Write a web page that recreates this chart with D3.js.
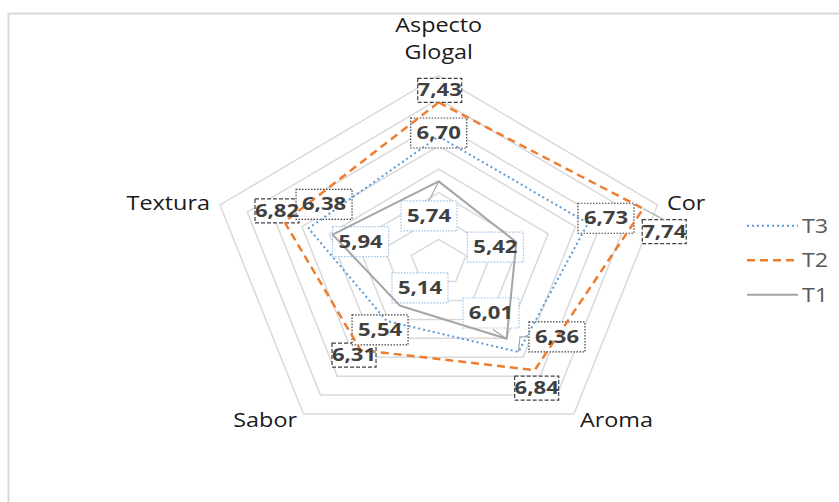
<!DOCTYPE html>
<html>
<head>
<meta charset="utf-8">
<script src="https://cdn.jsdelivr.net/npm/d3@7"></script>
<style>
  html, body { margin: 0; padding: 0; background: #fff; }
  svg { display: block; }
</style>
</head>
<body>
<svg id="chart" width="839" height="502"></svg>
<script>
// ---- data ----
const axes = ["Aspecto\nGlogal", "Cor", "Aroma", "Sabor", "Textura"];
const seriesNames = ["T3", "T2", "T1"];
const t3Values = [6.70, 6.73, 6.36, 5.54, 6.38];
const t2Values = [7.43, 7.74, 6.84, 6.31, 6.82];
const t1Values = [5.74, 5.42, 6.01, 5.14, 5.94];
const axisMin = 4, axisMax = 8, axisStep = 0.5;

// ---- layout / style ----
const W = 839, H = 502;
const cx = 438.7, cy = 262.7;
const RX = 230, RY = 187;
const TX = 1.2;   // horizontal text stretch
const TXL = 1.3;  // stretch for data labels
const FONT = "'Open Sans', Lato, sans-serif";
const styles = {
  T3: {color: "#5b9bd5", width: 2, dash: "2,3", box: {w: 56, h: 30, stroke: "#404040", dash: "1.5,1.5"}},
  T2: {color: "#ed7d31", width: 2.5, dash: "8,5", box: {w: 44, h: 24, stroke: "#404040", dash: "4,2"}},
  T1: {color: "#a5a5a5", width: 2, dash: null, box: {w: 56, h: 30, stroke: "#9dc3e6", dash: "1.5,1.5"}}
};
// data-label offsets relative to each point (dx, dy)
const labelOffsets = {
  T3: [[0, -3.5], [18, -5], [38.5, -15], [-6.6, 9], [15.5, -24]],
  T2: [[1, -12], [21, 23], [2, 18], [-6.6, 5], [-7.5, -11]],
  T1: [[-9.7, 34.6], [-21, 5], [-15.7, -25.7], [19.8, -18], [28, 7]]
};
const axisLabelLayout = [
  {anchor: "middle", dx: 0, dy: -17},
  {anchor: "start", dx: 9.6, dy: 5},
  {anchor: "start", dx: 6, dy: 13},
  {anchor: "end", dx: -6.5, dy: 13},
  {anchor: "end", dx: -10, dy: 5}
];

const valuesBy = {T3: t3Values, T2: t2Values, T1: t1Values};

const svg = d3.select("#chart");
const rX = d3.scaleLinear().domain([axisMin, axisMax]).range([0, RX]);
const rY = d3.scaleLinear().domain([axisMin, axisMax]).range([0, RY]);
const angle = d3.scalePoint().domain(d3.range(axes.length)).range([0, 2 * Math.PI * (axes.length - 1) / axes.length]);

function pt(i, v) {
  const a = angle(i);
  return [cx + Math.sin(a) * rX(v), cy - Math.cos(a) * rY(v)];
}

// chart border
svg.append("rect").attr("x", 8.5).attr("y", 13.5).attr("width", W).attr("height", H)
  .attr("fill", "none").attr("stroke", "#d9d9d9").attr("stroke-width", 2);

// grid rings
const ringVals = d3.range(axisMin + axisStep, axisMax + 1e-9, axisStep);
svg.append("g").selectAll("path").data(ringVals).join("path")
  .attr("d", v => d3.line()(axes.map((_, i) => pt(i, v))) + "Z")
  .attr("fill", "none").attr("stroke", "#d9d9d9").attr("stroke-width", 1.5);

// axis labels
axes.forEach((name, i) => {
  const [x, y] = pt(i, axisMax);
  const L = axisLabelLayout[i];
  const lines = name.split("\n");
  const g = svg.append("g").attr("transform", `translate(${x + L.dx},${y + L.dy})`);
  lines.forEach((ln, k) => {
    g.append("text").attr("transform", `translate(0,${(k - (lines.length - 1)) * 27}) scale(${TX},1)`)
      .attr("text-anchor", L.anchor)
      .attr("font-family", FONT).attr("font-size", 19.5)
      .attr("fill", "#1a1a1a").text(ln);
  });
});

const boxLayer = svg.append("g");
const lineLayer = svg.append("g");
const leaderLayer = svg.append("g");
const textLayer = svg.append("g");

// leader lines
const leaders = [
  {s: "T1", i: 0, to: (lx, ly, b) => [[lx, ly - b.h / 2]]},
  {s: "T2", i: 1, to: (lx, ly, b) => [[lx, ly - b.h / 2]]},
  {s: "T3", i: 2, to: (lx, ly, b) => [[lx - b.w / 2 - 9, ly], [lx - b.w / 2, ly]]},
  {s: "T1", i: 2, to: (lx, ly, b) => [[lx + 2, ly + b.h / 2 + 1.5]]}
];

seriesNames.slice().reverse().forEach(s => {
  const vals = valuesBy[s];
  const st = styles[s];
  vals.forEach((v, i) => {
    const [px, py] = pt(i, v);
    const [dx, dy] = labelOffsets[s][i];
    const lx = px + dx, ly = py + dy;
    boxLayer.append("rect")
      .attr("x", lx - st.box.w / 2).attr("y", ly - st.box.h / 2)
      .attr("width", st.box.w).attr("height", st.box.h)
      .attr("fill", "#fff").attr("stroke", st.box.stroke).attr("stroke-width", 1.2)
      .attr("stroke-dasharray", st.box.dash);
    textLayer.append("text")
      .attr("transform", `translate(${lx},${ly + 6}) scale(${TXL},1)`)
      .attr("text-anchor", "middle")
      .attr("font-family", FONT).attr("font-weight", "bold")
      .attr("font-size", 17).attr("fill", "#404040")
      .text(d3.format(".2f")(v).replace(".", ","));
  });
});

leaders.forEach(L => {
  const v = valuesBy[L.s][L.i];
  const [px, py] = pt(L.i, v);
  const [dx, dy] = labelOffsets[L.s][L.i];
  const pts = [[px, py]].concat(L.to(px + dx, py + dy, styles[L.s].box));
  leaderLayer.append("path").attr("d", d3.line()(pts))
    .attr("fill", "none").attr("stroke", "#a6a6a6").attr("stroke-width", 1.2);
});

// series lines (T1 bottom, T3 top)
["T1", "T2", "T3"].forEach(s => {
  const st = styles[s];
  lineLayer.append("path")
    .attr("d", d3.line()(valuesBy[s].map((v, i) => pt(i, v))) + "Z")
    .attr("fill", "none").attr("stroke", st.color).attr("stroke-width", st.width)
    .attr("stroke-dasharray", st.dash).attr("stroke-linejoin", "round");
});

// legend
const legend = svg.append("g");
seriesNames.forEach((s, k) => {
  const st = styles[s];
  const base = 232.7 + k * 34.5;
  legend.append("line").attr("x1", 747).attr("x2", 798)
    .attr("y1", base - 7).attr("y2", base - 7)
    .attr("stroke", st.color).attr("stroke-width", st.width)
    .attr("stroke-dasharray", st.dash);
  legend.append("text").attr("transform", `translate(802,${base}) scale(${TX},1)`)
    .attr("font-family", FONT).attr("font-size", 19.5)
    .attr("fill", "#595959").text(s);
});
</script>
</body>
</html>
